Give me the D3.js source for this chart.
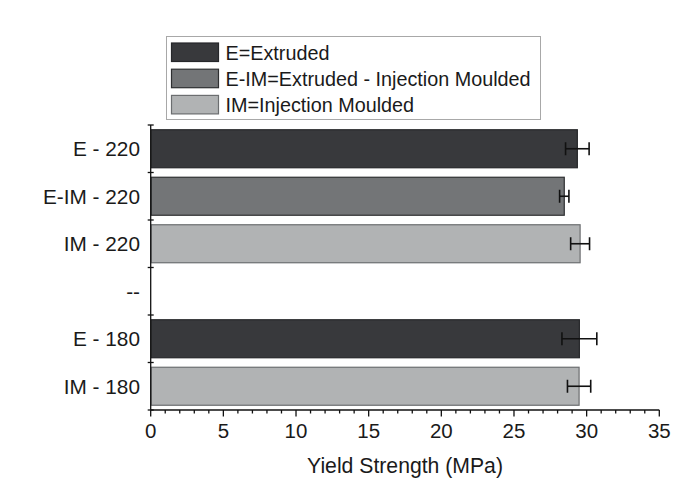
<!DOCTYPE html>
<html>
<head>
<meta charset="utf-8">
<script src="https://cdn.jsdelivr.net/npm/d3@7"></script>
<style>
  html, body { margin: 0; padding: 0; background: #fff; }
  svg { display: block; font-family: "Liberation Sans", Arial, sans-serif; }
</style>
</head>
<body>
<svg id="chart" width="691" height="481"></svg>
<script>
// ---- data ----
const categories = ["E - 220", "E-IM - 220", "IM - 220", "--", "E - 180", "IM - 180"];
const groups = ["E", "E-IM", "IM", null, "E", "IM"];
const values = [29.36, 28.46, 29.55, null, 29.5, 29.48];
const errors = [0.81, 0.32, 0.65, null, 1.2, 0.8];
const legendKeys = ["E", "E-IM", "IM"];
const legendLabels = ["E=Extruded", "E-IM=Extruded - Injection Moulded", "IM=Injection Moulded"];
const xTickValues = [0, 5, 10, 15, 20, 25, 30, 35];
const xMinorTickValues = d3.range(0, 36, 1);
const xTitle = "Yield Strength (MPa)";

// ---- styles ----
const fillColor = { "E": "#38393c", "E-IM": "#737577", "IM": "#b1b3b4" };
const strokeColor = { "E": "#26272a", "E-IM": "#2e2f31", "IM": "#6c6e70" };
const textColor = "#1a1a1a";

const svg = d3.select("#chart");
const x = d3.scaleLinear().domain([0, 35]).range([150.7, 659.3]);
const y = d3.scaleBand().domain(categories).range([125, 410]).paddingInner(0.2).paddingOuter(0.1);

const rows = categories.map((c, i) => ({ c, g: groups[i], v: values[i], e: errors[i] }))
  .filter(d => d.v !== null);

// bars
svg.append("g").selectAll("rect").data(rows).join("rect")
  .attr("x", x(0) + 0.5)
  .attr("y", d => y(d.c))
  .attr("width", d => x(d.v) - x(0) - 0.5)
  .attr("height", y.bandwidth())
  .attr("fill", d => fillColor[d.g])
  .attr("stroke", d => strokeColor[d.g])
  .attr("stroke-width", 1.2);

// error bars
const eb = svg.append("g").attr("stroke", "#111").attr("stroke-width", 1.6);
rows.forEach(d => {
  const cy = y(d.c) + y.bandwidth() / 2;
  eb.append("line").attr("x1", x(d.v - d.e)).attr("x2", x(d.v + d.e)).attr("y1", cy).attr("y2", cy);
  [d.v - d.e, d.v + d.e].forEach(v => {
    eb.append("line").attr("x1", x(v)).attr("x2", x(v)).attr("y1", cy - 6.5).attr("y2", cy + 6.5);
  });
});

// x axis
const xAxisG = svg.append("g").attr("stroke", "#111").attr("stroke-width", 1.3);
xAxisG.append("line").attr("x1", x(0)).attr("x2", x(35)).attr("y1", 410).attr("y2", 410);
xAxisG.selectAll("line.minor").data(xMinorTickValues.filter(v => v % 5 !== 0)).join("line")
  .attr("class", "minor")
  .attr("x1", d => x(d)).attr("x2", d => x(d)).attr("y1", 410).attr("y2", 413.5);
xAxisG.selectAll("line.major").data(xTickValues).join("line")
  .attr("class", "major")
  .attr("x1", d => x(d)).attr("x2", d => x(d)).attr("y1", 410).attr("y2", 416.5);
svg.append("g").selectAll("text").data(xTickValues).join("text")
  .attr("x", d => x(d)).attr("y", 438)
  .attr("text-anchor", "middle")
  .attr("font-size", 20.5)
  .attr("fill", textColor)
  .text(d => d);
svg.append("text")
  .attr("x", (x(0) + x(35)) / 2).attr("y", 473)
  .attr("text-anchor", "middle")
  .attr("font-size", 21.2)
  .attr("fill", textColor)
  .text(xTitle);

// y axis
const yAxisG = svg.append("g").attr("stroke", "#111").attr("stroke-width", 1.3);
yAxisG.append("line").attr("x1", x(0)).attr("x2", x(0)).attr("y1", 125).attr("y2", 410);
const boundaries = categories.map(c => y(c) - y.step() * y.paddingInner() / 2);
boundaries.push(410);
yAxisG.selectAll("line.tick").data(boundaries).join("line")
  .attr("class", "tick")
  .attr("x1", x(0) - 3).attr("x2", x(0) + 3)
  .attr("y1", d => d).attr("y2", d => d);
svg.append("g").selectAll("text").data(categories).join("text")
  .attr("x", 140)
  .attr("y", c => y(c) + y.bandwidth() / 2 + 7.5)
  .attr("text-anchor", "end")
  .attr("font-size", 20.8)
  .attr("fill", textColor)
  .text(c => c);

// legend
const lg = svg.append("g");
lg.append("rect").attr("x", 166.5).attr("y", 36.5).attr("width", 374).attr("height", 83)
  .attr("fill", "#fff").attr("stroke", "#a8a8a8").attr("stroke-width", 1);
legendKeys.forEach((k, i) => {
  const ry = 43 + i * 26.2;
  lg.append("rect").attr("x", 171.5).attr("y", ry).attr("width", 47).attr("height", 18.5)
    .attr("fill", fillColor[k]).attr("stroke", strokeColor[k]).attr("stroke-width", 1.2);
  lg.append("text").attr("x", 225.5).attr("y", ry + 16.5)
    .attr("font-size", 19.8).attr("fill", textColor)
    .text(legendLabels[i]);
});
</script>
</body>
</html>
